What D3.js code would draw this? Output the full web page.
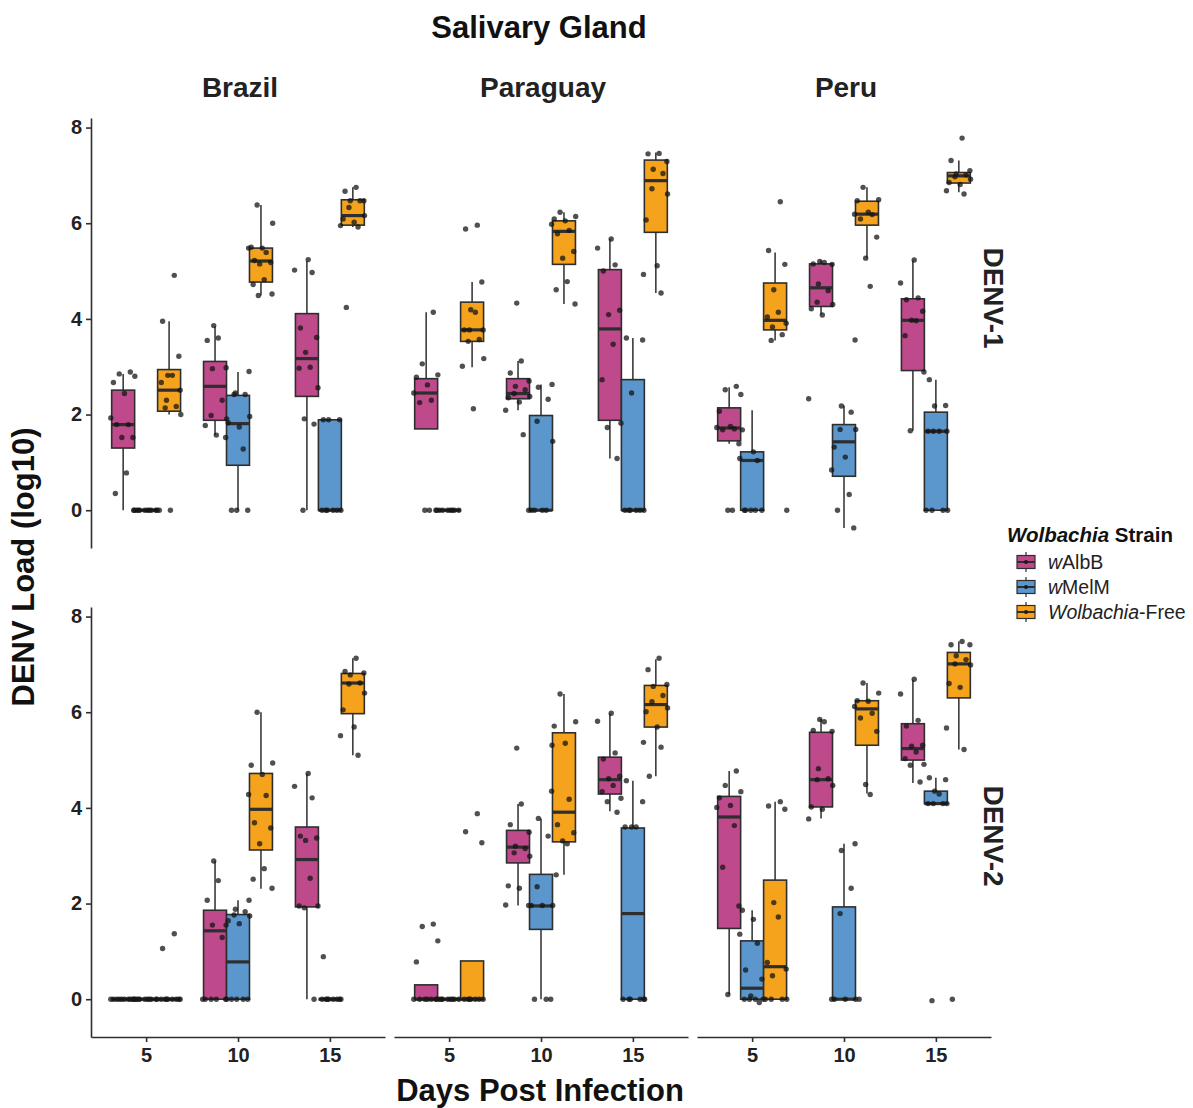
<!DOCTYPE html>
<html>
<head>
<meta charset="utf-8">
<script src="https://cdn.jsdelivr.net/npm/d3@7"></script>
<style>
  body { margin: 0; background: #fff; }
  svg { display: block; font-family: "Liberation Sans", Arial, Helvetica, sans-serif; }
</style>
</head>
<body>
<svg id="chart" width="1193" height="1108"></svg>
<script>
// Categories
const countries = ["Brazil", "Paraguay", "Peru"];
const days = [5, 10, 15];
const strains = ["wAlbB", "wMelM", "Wolbachia-Free"];
const strainColors = ["#bf4a8b", "#5b97cd", "#f5a31d"];
const yTicks = [0, 2, 4, 6, 8];

// Box stats: country, day, strain, whisker low, q1, median, q3, whisker high
const boxesDenv1 = [
  ["Brazil", 5, "wAlbB", 0, 1.30, 1.79, 2.51, 2.85],
  ["Brazil", 5, "wMelM", 0, 0, 0, 0, 0],
  ["Brazil", 5, "Wolbachia-Free", 2.00, 2.07, 2.51, 2.94, 3.95],
  ["Brazil", 10, "wAlbB", 1.57, 1.88, 2.59, 3.11, 3.84],
  ["Brazil", 10, "wMelM", 0, 0.94, 1.81, 2.40, 2.89],
  ["Brazil", 10, "Wolbachia-Free", 4.49, 4.77, 5.21, 5.48, 6.38],
  ["Brazil", 15, "wAlbB", 0, 2.38, 3.17, 4.11, 5.21],
  ["Brazil", 15, "wMelM", 0, 0, 0, 1.89, 1.89],
  ["Brazil", 15, "Wolbachia-Free", 5.92, 5.96, 6.16, 6.49, 6.75],
  ["Paraguay", 5, "wAlbB", 1.70, 1.70, 2.45, 2.75, 4.14],
  ["Paraguay", 5, "wMelM", 0, 0, 0, 0, 0],
  ["Paraguay", 5, "Wolbachia-Free", 2.99, 3.53, 3.77, 4.35, 4.77],
  ["Paraguay", 10, "wAlbB", 2.09, 2.33, 2.44, 2.75, 3.12],
  ["Paraguay", 10, "wMelM", 0, 0, 0, 1.98, 2.63],
  ["Paraguay", 10, "Wolbachia-Free", 4.31, 5.14, 5.83, 6.05, 6.23],
  ["Paraguay", 15, "wAlbB", 1.08, 1.88, 3.79, 5.03, 5.67],
  ["Paraguay", 15, "wMelM", 0, 0, 0, 2.73, 3.60],
  ["Paraguay", 15, "Wolbachia-Free", 4.54, 5.81, 6.89, 7.32, 7.48],
  ["Peru", 5, "wAlbB", 1.39, 1.45, 1.72, 2.14, 2.57],
  ["Peru", 5, "wMelM", 0, 0, 1.04, 1.22, 2.09],
  ["Peru", 5, "Wolbachia-Free", 3.55, 3.77, 3.97, 4.75, 5.39],
  ["Peru", 10, "wAlbB", 4.09, 4.26, 4.65, 5.15, 5.22],
  ["Peru", 10, "wMelM", -0.37, 0.71, 1.43, 1.79, 2.19],
  ["Peru", 10, "Wolbachia-Free", 5.27, 5.96, 6.19, 6.46, 6.75],
  ["Peru", 15, "wAlbB", 1.66, 2.92, 3.97, 4.42, 5.22],
  ["Peru", 15, "wMelM", 0, 0, 1.65, 2.05, 2.73],
  ["Peru", 15, "Wolbachia-Free", 6.65, 6.84, 6.99, 7.06, 7.31]
];

const boxesDenv2 = [
  ["Brazil", 5, "wAlbB", 0, 0, 0, 0, 0],
  ["Brazil", 5, "wMelM", 0, 0, 0, 0, 0],
  ["Brazil", 5, "Wolbachia-Free", 0, 0, 0, 0, 0],
  ["Brazil", 10, "wAlbB", 0, 0, 1.43, 1.86, 2.89],
  ["Brazil", 10, "wMelM", 0, 0, 0.78, 1.77, 2.07],
  ["Brazil", 10, "Wolbachia-Free", 2.31, 3.12, 3.97, 4.72, 6.00],
  ["Brazil", 15, "wAlbB", 0, 1.93, 2.92, 3.60, 4.72],
  ["Brazil", 15, "wMelM", 0, 0, 0, 0, 0],
  ["Brazil", 15, "Wolbachia-Free", 5.10, 5.97, 6.61, 6.81, 7.13],
  ["Paraguay", 5, "wAlbB", 0, 0, 0, 0.30, 0.30],
  ["Paraguay", 5, "wMelM", 0, 0, 0, 0, 0],
  ["Paraguay", 5, "Wolbachia-Free", 0, 0, 0, 0.80, 0.80],
  ["Paraguay", 10, "wAlbB", 1.96, 2.85, 3.18, 3.53, 4.08],
  ["Paraguay", 10, "wMelM", 0, 1.46, 1.95, 2.61, 3.78],
  ["Paraguay", 10, "Wolbachia-Free", 2.60, 3.29, 3.91, 5.57, 6.38],
  ["Paraguay", 15, "wAlbB", 3.93, 4.29, 4.59, 5.06, 5.97],
  ["Paraguay", 15, "wMelM", 0, 0, 1.79, 3.58, 4.57],
  ["Paraguay", 15, "Wolbachia-Free", 4.66, 5.69, 6.16, 6.56, 7.11],
  ["Peru", 5, "wAlbB", 0.10, 1.48, 3.81, 4.24, 4.77],
  ["Peru", 5, "wMelM", 0, 0, 0.23, 1.22, 1.86],
  ["Peru", 5, "Wolbachia-Free", 0, 0, 0.68, 2.49, 4.13],
  ["Peru", 10, "wAlbB", 3.78, 4.02, 4.59, 5.58, 5.86],
  ["Peru", 10, "wMelM", 0, 0, 0, 1.93, 3.25],
  ["Peru", 10, "Wolbachia-Free", 4.30, 5.31, 6.07, 6.24, 6.61],
  ["Peru", 15, "wAlbB", 4.52, 5.00, 5.24, 5.76, 6.68],
  ["Peru", 15, "wMelM", 4.09, 4.09, 4.09, 4.35, 4.63],
  ["Peru", 15, "Wolbachia-Free", 5.22, 6.30, 7.01, 7.25, 7.48]
];

// Individual mosquito values (log10 load)
const pointsDenv1 = [
  ["Brazil", 5, "wAlbB", [2.89, 2.85, 2.80, 2.67, 2.44, 1.93, 1.79, 1.79, 1.52, 1.52, 0.78, 0.35, 0]],
  ["Brazil", 5, "wMelM", [0, 0, 0, 0, 0, 0, 0, 0, 0, 0]],
  ["Brazil", 5, "Wolbachia-Free", [4.91, 3.95, 3.22, 2.82, 2.82, 2.67, 2.51, 2.30, 2.17, 2.14, 2.00, 0, 0]],
  ["Brazil", 10, "wAlbB", [3.86, 3.60, 3.55, 2.98, 2.96, 2.30, 1.98, 1.91, 1.77, 1.57]],
  ["Brazil", 10, "wMelM", [2.90, 2.45, 2.42, 2.42, 1.96, 1.83, 1.74, 1.52, 1.28, 0, 0, 0]],
  ["Brazil", 10, "Wolbachia-Free", [6.38, 6.00, 5.50, 5.48, 5.48, 5.39, 5.22, 5.18, 5.15, 4.82, 4.72, 4.52, 4.49]],
  ["Brazil", 15, "wAlbB", [5.24, 5.02, 4.97, 3.81, 3.61, 3.30, 2.99, 2.97, 2.56, 1.91, 1.80, 0]],
  ["Brazil", 15, "wMelM", [1.89, 1.89, 1.89, 0, 0, 0, 0, 0, 0]],
  ["Brazil", 15, "Wolbachia-Free", [6.75, 6.67, 6.47, 6.47, 6.47, 6.33, 6.16, 6.09, 6.02, 5.95, 5.92, 4.24]],
  ["Paraguay", 5, "wAlbB", [4.14, 3.06, 2.83, 2.78, 2.62, 2.45, 2.30, 2.25, 0, 0, 0]],
  ["Paraguay", 5, "wMelM", [0, 0, 0, 0, 0, 0, 0, 0]],
  ["Paraguay", 5, "Wolbachia-Free", [5.96, 5.88, 4.77, 4.19, 4.14, 3.77, 3.77, 3.77, 3.57, 3.53, 3.17, 3.01, 2.12]],
  ["Paraguay", 10, "wAlbB", [4.33, 3.12, 2.87, 2.70, 2.59, 2.52, 2.44, 2.38, 2.35, 2.26, 2.09, 1.58]],
  ["Paraguay", 10, "wMelM", [2.63, 2.57, 2.32, 1.86, 1.44, 0, 0, 0, 0, 0]],
  ["Paraguay", 10, "Wolbachia-Free", [6.23, 6.14, 6.09, 6.05, 5.98, 5.85, 5.78, 5.41, 5.27, 4.78, 4.61, 4.31]],
  ["Paraguay", 15, "wAlbB", [5.67, 5.48, 5.13, 5.00, 4.18, 4.09, 3.47, 2.73, 1.82, 1.73, 1.08]],
  ["Paraguay", 15, "wMelM", [3.60, 3.56, 2.45, 0, 0, 0, 0, 0, 0]],
  ["Paraguay", 15, "Wolbachia-Free", [7.46, 7.45, 7.29, 7.13, 7.04, 6.72, 6.61, 6.07, 5.11, 4.93, 4.54]],
  ["Peru", 5, "wAlbB", [2.59, 2.52, 2.42, 2.07, 1.75, 1.73, 1.70, 1.68, 1.39, 0, 0]],
  ["Peru", 5, "wMelM", [1.68, 1.22, 1.08, 1.04, 0, 0, 0, 0, 0]],
  ["Peru", 5, "Wolbachia-Free", [6.45, 5.43, 5.14, 4.61, 4.14, 4.04, 3.91, 3.83, 3.67, 3.55, 0]],
  ["Peru", 10, "wAlbB", [5.20, 5.18, 5.15, 5.14, 4.73, 4.59, 4.35, 4.30, 4.21, 4.08, 2.33]],
  ["Peru", 10, "wMelM", [3.56, 2.18, 2.05, 1.69, 1.69, 1.32, 1.11, 0.84, 0.33, 0, -0.37]],
  ["Peru", 10, "Wolbachia-Free", [6.75, 6.49, 6.47, 6.23, 6.19, 6.18, 6.09, 5.71, 5.27, 4.68]],
  ["Peru", 15, "wAlbB", [5.23, 4.75, 4.44, 4.40, 4.16, 3.97, 3.96, 3.65, 2.89, 1.66]],
  ["Peru", 15, "wMelM", [2.73, 2.19, 2.18, 1.65, 1.65, 1.65, 1.65, 0, 0, 0, 0]],
  ["Peru", 15, "Wolbachia-Free", [7.78, 7.31, 7.10, 7.03, 7.01, 6.97, 6.92, 6.85, 6.81, 6.68, 6.61]]
];

const pointsDenv2 = [
  ["Brazil", 5, "wAlbB", [0, 0, 0, 0, 0, 0, 0, 0, 0, 0]],
  ["Brazil", 5, "wMelM", [0, 0, 0, 0, 0, 0, 0, 0, 0, 0]],
  ["Brazil", 5, "Wolbachia-Free", [1.37, 1.06, 0, 0, 0, 0, 0, 0, 0, 0]],
  ["Brazil", 10, "wAlbB", [2.89, 2.48, 2.07, 1.55, 1.55, 1.29, 0, 0, 0, 0, 0]],
  ["Brazil", 10, "wMelM", [2.07, 1.88, 1.83, 1.76, 1.74, 1.64, 1.58, 0, 0, 0, 0, 0]],
  ["Brazil", 10, "Wolbachia-Free", [6.00, 4.94, 4.89, 4.70, 4.28, 4.26, 3.69, 3.58, 3.25, 2.73, 2.51, 2.32]],
  ["Brazil", 15, "wAlbB", [4.72, 4.45, 4.21, 3.41, 3.37, 3.32, 2.53, 1.95, 1.95, 1.91, 0]],
  ["Brazil", 15, "wMelM", [0.89, 0, 0, 0, 0, 0, 0, 0, 0]],
  ["Brazil", 15, "Wolbachia-Free", [7.13, 6.85, 6.82, 6.78, 6.61, 6.59, 6.40, 6.05, 5.69, 5.51, 5.10]],
  ["Paraguay", 5, "wAlbB", [1.57, 1.52, 1.22, 0.78, 0, 0, 0, 0, 0, 0]],
  ["Paraguay", 5, "wMelM", [0, 0, 0, 0, 0, 0, 0, 0, 0]],
  ["Paraguay", 5, "Wolbachia-Free", [3.88, 3.50, 3.27, 0, 0, 0, 0, 0, 0, 0]],
  ["Paraguay", 10, "wAlbB", [5.25, 4.08, 3.65, 3.49, 3.20, 3.15, 3.06, 2.99, 2.37, 2.32, 1.97]],
  ["Paraguay", 10, "wMelM", [5.31, 3.78, 3.41, 2.35, 1.96, 1.96, 1.96, 1.96, 0, 0, 0]],
  ["Paraguay", 10, "Wolbachia-Free", [6.38, 5.80, 5.71, 5.35, 4.35, 4.18, 3.65, 3.48, 3.31, 3.25, 2.60]],
  ["Paraguay", 15, "wAlbB", [5.98, 5.81, 5.15, 5.02, 4.66, 4.61, 4.47, 4.34, 4.20, 4.13, 3.91]],
  ["Paraguay", 15, "wMelM", [4.57, 4.13, 3.60, 3.60, 3.60, 0, 0, 0, 0, 0, 0]],
  ["Paraguay", 15, "Wolbachia-Free", [7.13, 6.89, 6.58, 6.54, 6.35, 6.22, 6.09, 6.01, 5.69, 5.37, 5.27, 4.66]],
  ["Peru", 5, "wAlbB", [4.77, 4.47, 4.34, 4.21, 4.05, 4.01, 3.63, 2.76, 1.95, 0.10]],
  ["Peru", 5, "wMelM", [1.86, 1.67, 1.36, 1.17, 0.61, 0.42, 0.07, 0, 0, 0, 0, -0.07]],
  ["Peru", 5, "Wolbachia-Free", [4.13, 4.04, 3.97, 2.02, 1.72, 0.77, 0.63, 0.49, 0, 0, 0, 0]],
  ["Peru", 10, "wAlbB", [5.85, 5.80, 5.62, 5.60, 4.82, 4.61, 4.59, 4.47, 4.02, 3.97, 3.77]],
  ["Peru", 10, "wMelM", [3.25, 3.11, 2.32, 1.79, 0, 0, 0, 0]],
  ["Peru", 10, "Wolbachia-Free", [6.61, 6.40, 6.24, 6.23, 6.12, 5.98, 5.88, 5.60, 4.49, 4.28, 0]],
  ["Peru", 15, "wAlbB", [6.69, 6.38, 5.83, 5.71, 5.31, 5.29, 5.17, 5.03, 4.91, 4.89, 4.54]],
  ["Peru", 15, "wMelM", [4.63, 4.59, 4.35, 4.29, 4.09, 4.09, 4.09, 4.09, -0.03]],
  ["Peru", 15, "Wolbachia-Free", [7.48, 7.41, 7.41, 7.18, 7.10, 7.01, 6.99, 6.60, 6.52, 5.67, 5.22, 0]]
];

// fixed horizontal jitter offsets (fraction of jitter half-width), cycled per point
const jitterPattern = [0.55, -0.3, 0.9, -0.75, 0.1, -0.95, 0.4, -0.5, 0.75, -0.1, 0.25, -0.6, 0.85, -0.2];

// Layout
const svg = d3.select("#chart");
const panelW = 294;
const colX = [91, 394, 697];
const facetRows = [
  { sero: "DENV-1", boxes: boxesDenv1, points: pointsDenv1, top: 118, bottom: 548, labelY: 298 },
  { sero: "DENV-2", boxes: boxesDenv2, points: pointsDenv2, top: 607, bottom: 1037, labelY: 836 }
];
const yDomain = [-0.79, 8.2];
const colorOf = d3.scaleOrdinal().domain(strains).range(strainColors);
const ink = "#2e2e2e";

facetRows.forEach((row, ri) => {
  const y = d3.scaleLinear().domain(yDomain).range([row.bottom, row.top]);

  countries.forEach((country, ci) => {
    const x0 = colX[ci];
    const x = d3.scalePoint().domain(days).range([x0, x0 + panelW]).padding(0.6);
    const step = x.step();
    const dodge = d3.scaleBand().domain(strains).range([-0.375 * step, 0.375 * step]);
    const bw = dodge.bandwidth();
    const cx = (day, strain) => x(day) + dodge(strain) + bw / 2;

    const g = svg.append("g");

    const boxes = row.boxes.filter(b => b[0] === country);
    // whiskers
    g.selectAll("line.whisker")
      .data(boxes)
      .join("line")
        .attr("class", "whisker")
        .attr("x1", d => cx(d[1], d[2]))
        .attr("x2", d => cx(d[1], d[2]))
        .attr("y1", d => y(d[3]))
        .attr("y2", d => y(d[7]))
        .attr("stroke", ink)
        .attr("stroke-width", 1.5);

    // boxes
    g.selectAll("rect.box")
      .data(boxes)
      .join("rect")
        .attr("class", "box")
        .attr("x", d => cx(d[1], d[2]) - bw / 2)
        .attr("width", bw)
        .attr("y", d => y(d[6]))
        .attr("height", d => y(d[4]) - y(d[6]))
        .attr("fill", d => colorOf(d[2]))
        .attr("stroke", ink)
        .attr("stroke-width", 1.6);

    // medians
    g.selectAll("line.median")
      .data(boxes)
      .join("line")
        .attr("class", "median")
        .attr("x1", d => cx(d[1], d[2]) - bw / 2)
        .attr("x2", d => cx(d[1], d[2]) + bw / 2)
        .attr("y1", d => y(d[5]))
        .attr("y2", d => y(d[5]))
        .attr("stroke", ink)
        .attr("stroke-width", 3.2);

    // jittered points
    const pts = row.points
      .filter(p => p[0] === country)
      .flatMap((p, gi) => p[3].map((v, i) => ({
        day: p[1], strain: p[2], v,
        jx: jitterPattern[(i + gi * 3) % jitterPattern.length]
      })));

    g.selectAll("circle")
      .data(pts)
      .join("circle")
        .attr("cx", d => cx(d.day, d.strain) + d.jx * 13)
        .attr("cy", d => y(d.v))
        .attr("r", 2.7)
        .attr("fill", "#151515")
        .attr("fill-opacity", 0.75);

    // y axis only on first column
    if (ci === 0) {
      const ya = svg.append("g")
        .attr("transform", `translate(${x0},0)`)
        .call(d3.axisLeft(y).tickValues(yTicks).tickSize(5).tickSizeOuter(0).tickPadding(4));
      ya.select(".domain").attr("stroke", ink).attr("stroke-width", 1.6);
      ya.selectAll(".tick line").attr("stroke", ink).attr("stroke-width", 1.6);
      ya.selectAll(".tick text")
        .attr("font-family", "Liberation Sans, Arial, sans-serif")
        .attr("font-size", 20).attr("font-weight", "bold").attr("fill", "#222");
    }

    // x axis only on the bottom row
    if (ri === facetRows.length - 1) {
      const xa = svg.append("g")
        .attr("transform", `translate(0,${row.bottom})`)
        .call(d3.axisBottom(x).tickSize(5).tickSizeOuter(0).tickPadding(6));
      xa.select(".domain").attr("stroke", ink).attr("stroke-width", 1.6);
      xa.selectAll(".tick line").attr("stroke", ink).attr("stroke-width", 1.6);
      xa.selectAll(".tick text")
        .attr("font-family", "Liberation Sans, Arial, sans-serif")
        .attr("font-size", 20).attr("font-weight", "bold").attr("fill", "#222");
    }

    // facet strip labels (columns)
    if (ri === 0) {
      svg.append("text")
        .attr("x", x0 + panelW / 2 + 2)
        .attr("y", 97)
        .attr("text-anchor", "middle")
        .attr("font-size", 28)
        .attr("font-weight", "bold")
        .attr("fill", "#222")
        .text(country);
    }
  });

  // row strip label
  svg.append("text")
    .attr("transform", `translate(993,${row.labelY}) rotate(90)`)
    .attr("text-anchor", "middle")
    .attr("dominant-baseline", "central")
    .attr("font-size", 28)
    .attr("font-weight", "bold")
    .attr("fill", "#222")
    .text(row.sero);
});

// Titles
svg.append("text")
  .attr("x", 539).attr("y", 38)
  .attr("text-anchor", "middle")
  .attr("font-size", 31).attr("font-weight", "bold").attr("fill", "#111")
  .text("Salivary Gland");

svg.append("text")
  .attr("x", 540).attr("y", 1101)
  .attr("text-anchor", "middle")
  .attr("font-size", 31).attr("font-weight", "bold").attr("fill", "#111")
  .text("Days Post Infection");

svg.append("text")
  .attr("transform", "translate(34,567) rotate(-90)")
  .attr("text-anchor", "middle")
  .attr("font-size", 31).attr("font-weight", "bold").attr("fill", "#111")
  .text("DENV Load (log10)");

// Legend
const legend = svg.append("g").attr("transform", "translate(1007,0)");
const lt = legend.append("text").attr("x", 0).attr("y", 542)
  .attr("font-size", 20.5).attr("font-weight", "bold").attr("fill", "#111");
lt.append("tspan").attr("font-style", "italic").text("Wolbachia");
lt.append("tspan").text(" Strain");

const legendLabels = [
  [["w", true], ["AlbB", false]],
  [["w", true], ["MelM", false]],
  [["Wolbachia", true], ["-Free", false]]
];

strains.forEach((s, i) => {
  const cy = 562 + i * 25;
  const k = legend.append("g").attr("transform", `translate(10,${cy})`);
  k.append("line").attr("x1", 9).attr("x2", 9).attr("y1", -10).attr("y2", 10)
    .attr("stroke", ink).attr("stroke-width", 1.2);
  k.append("rect").attr("x", 0).attr("y", -6.5).attr("width", 18).attr("height", 13)
    .attr("fill", colorOf(s)).attr("stroke", ink).attr("stroke-width", 1.2);
  k.append("line").attr("x1", 0).attr("x2", 18).attr("y1", 0).attr("y2", 0)
    .attr("stroke", ink).attr("stroke-width", 2);
  k.append("circle").attr("cx", 9).attr("cy", 0).attr("r", 2).attr("fill", "#1a1a1a");

  const t = legend.append("text").attr("x", 41).attr("y", cy)
    .attr("dominant-baseline", "central")
    .attr("font-size", 19.5).attr("fill", "#222");
  legendLabels[i].forEach(([txt, it]) => {
    t.append("tspan").attr("font-style", it ? "italic" : "normal").text(txt);
  });
});
</script>
</body>
</html>
